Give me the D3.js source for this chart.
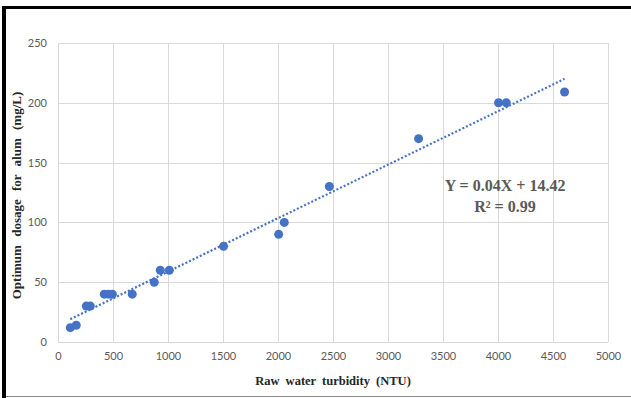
<!DOCTYPE html>
<html>
<head>
<meta charset="utf-8">
<script src="https://cdn.jsdelivr.net/npm/d3@7"></script>
<style>
body { margin: 0; background: #fff; }
svg { display: block; }
.tick-label { font-family: Lato, "Open Sans", sans-serif; font-size: 11px; fill: #595959; }
.axis-title { font-family: "Liberation Serif", serif; font-weight: bold; font-size: 12.5px; fill: #262626; word-spacing: 3px; }
.y-title { font-size: 13px; word-spacing: 5px; }
.eq { font-family: "Liberation Serif", serif; font-weight: bold; font-size: 16px; fill: #595959; }
</style>
</head>
<body>
<div id="chart"></div>
<script>
// turbidity (NTU) vs optimum alum dose (mg/L)
var turbidity = [112, 166, 257, 294, 421, 457, 494, 675, 875, 930, 1012, 1505, 2006, 2057, 2467, 3278, 4005, 4075, 4605];
var dosage = [12, 14, 30, 30, 40, 40, 40, 40, 50, 60, 60, 80, 90, 100, 130, 170, 200, 200, 209];
var xTicks = [0, 500, 1000, 1500, 2000, 2500, 3000, 3500, 4000, 4500, 5000];
var yTicks = [0, 50, 100, 150, 200, 250];

var W = 631, H = 398;
var margin = { top: 43, right: 23, bottom: 56, left: 58 };
var width = W - margin.left - margin.right,
    height = H - margin.top - margin.bottom;

var root = d3.select("#chart").append("svg")
    .attr("width", W)
    .attr("height", H);

// frame
root.append("line").attr("x1", 4).attr("x2", 4).attr("y1", 6).attr("y2", 398)
    .style("stroke", "#000").style("stroke-width", 4);
root.append("line").attr("x1", 2).attr("x2", 631).attr("y1", 7.5).attr("y2", 7.5)
    .style("stroke", "#000").style("stroke-width", 3);
root.append("line").attr("x1", 6).attr("x2", 631).attr("y1", 396.5).attr("y2", 396.5)
    .style("stroke", "#8c8c8c").style("stroke-width", 1);

var svg = root.append("g")
    .attr("transform", "translate(" + margin.left + "," + margin.top + ")");

var x = d3.scaleLinear().domain([0, 5000]).range([0, width]);
var y = d3.scaleLinear().domain([0, 250]).range([height, 0]);

// grid
svg.append("g").selectAll("line")
    .data(xTicks)
    .enter().append("line")
    .attr("x1", function(d) { return Math.round(x(d)) + 0.5; })
    .attr("x2", function(d) { return Math.round(x(d)) + 0.5; })
    .attr("y1", 0)
    .attr("y2", height)
    .style("stroke", "#d9d9d9");
svg.append("g").selectAll("line")
    .data(yTicks)
    .enter().append("line")
    .attr("y1", function(d) { return Math.round(y(d)) + 0.5; })
    .attr("y2", function(d) { return Math.round(y(d)) + 0.5; })
    .attr("x1", 0)
    .attr("x2", width)
    .style("stroke", "#d9d9d9");

// axes (labels only)
var xAxis = d3.axisBottom(x).tickValues(xTicks).tickFormat(d3.format("d")).tickSize(0).tickPadding(10);
var yAxis = d3.axisLeft(y).tickValues(yTicks).tickFormat(d3.format("d")).tickSize(0).tickPadding(11);
var xg = svg.append("g").attr("transform", "translate(0," + height + ")").call(xAxis);
var yg = svg.append("g").call(yAxis);
[xg, yg].forEach(function(g) {
    g.select(".domain").remove();
    g.selectAll("text").attr("class", "tick-label").attr("fill", null);
});

// trendline (least squares)
var n = turbidity.length;
var mx = d3.mean(turbidity), my = d3.mean(dosage);
var sxy = 0, sxx = 0;
for (var i = 0; i < n; i++) {
    sxy += (turbidity[i] - mx) * (dosage[i] - my);
    sxx += (turbidity[i] - mx) * (turbidity[i] - mx);
}
var slope = sxy / sxx, icpt = my - slope * mx;
var xExt = d3.extent(turbidity);
svg.append("line")
    .attr("x1", x(xExt[0])).attr("y1", y(icpt + slope * xExt[0]))
    .attr("x2", x(xExt[1])).attr("y2", y(icpt + slope * xExt[1]))
    .style("stroke", "#4472c4")
    .style("stroke-width", 2.2)
    .style("stroke-dasharray", "2,2");

// points
svg.append("g").selectAll("circle")
    .data(turbidity)
    .enter().append("circle")
    .attr("cx", function(d) { return x(d); })
    .attr("cy", function(d, i) { return y(dosage[i]); })
    .attr("r", 4.5)
    .style("fill", "#4472c4");

// equation
svg.append("text").attr("class", "eq")
    .attr("x", 447).attr("y", 148).attr("text-anchor", "middle")
    .text("Y = 0.04X + 14.42");
svg.append("text").attr("class", "eq")
    .attr("x", 447).attr("y", 169).attr("text-anchor", "middle")
    .text("R² = 0.99");

// axis titles
svg.append("text").attr("class", "axis-title")
    .attr("x", width / 2).attr("y", height + 43)
    .attr("text-anchor", "middle")
    .text("Raw water turbidity  (NTU)");
svg.append("text").attr("class", "axis-title y-title")
    .attr("text-anchor", "middle")
    .attr("transform", "translate(" + (-37) + "," + (height / 2 + 3) + ") rotate(-90)")
    .text("Optimum  dosage  for  alum  (mg/L)");
</script>
</body>
</html>
